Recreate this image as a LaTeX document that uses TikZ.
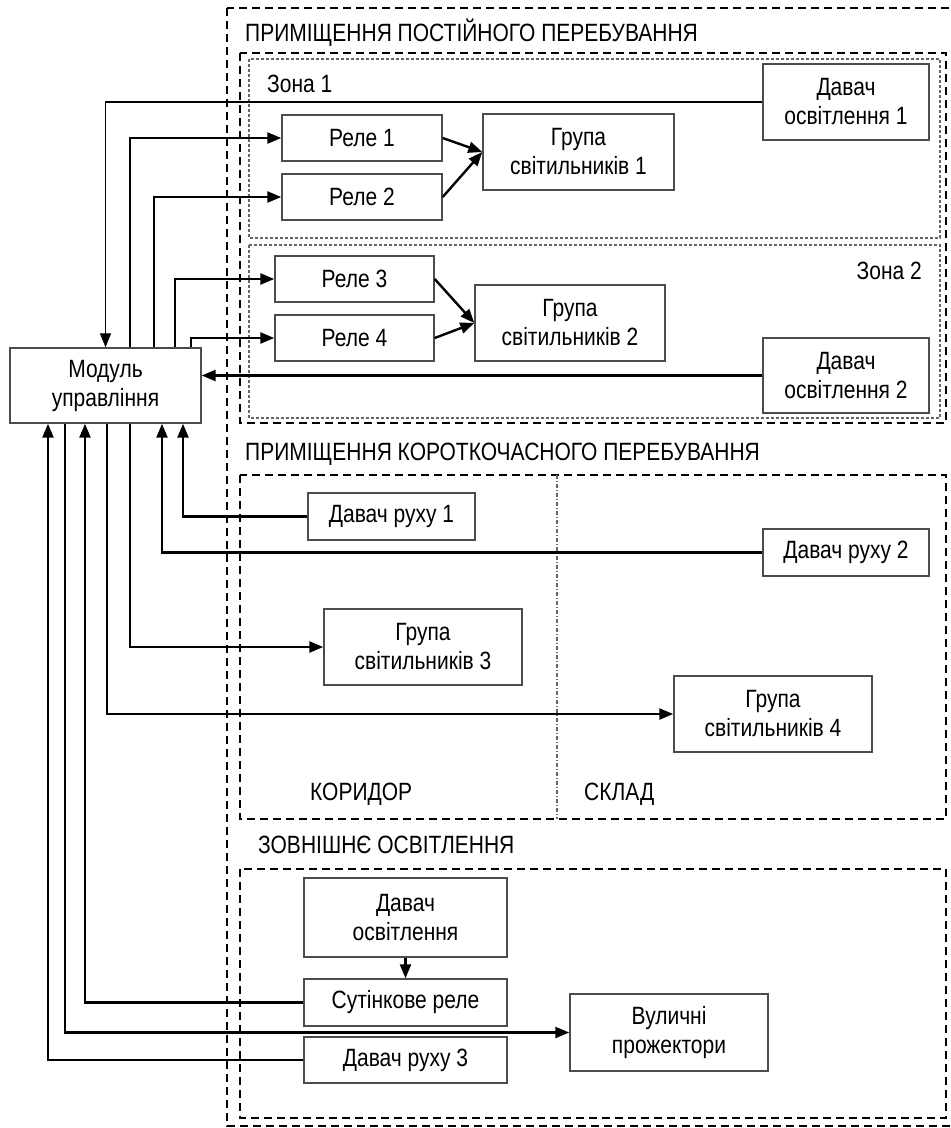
\documentclass[tikz,border=0pt]{standalone}
\usepackage{fontspec}
\setmainfont{Liberation Sans}[FakeStretch=0.84]
\usetikzlibrary{arrows.meta}
\begin{document}
\begin{tikzpicture}[x=1pt,y=-1pt,>={Triangle[length=14pt,width=11pt]}]

% page size
\useasboundingbox (0,0) rectangle (951,1128);
% text size
\def\fs{\fontsize{25}{29}\selectfont}
% node style definition
\tikzstyle{block} = [
	draw=black!70, line width=1.4pt, rectangle, align=center,
	inner sep=0pt, font=\fs, text=black ];
\tikzstyle{wire} = [line width=2.4pt, black];
\tikzstyle{room} = [line width=2.6pt, black, dash pattern=on 8pt off 5pt];
\tikzstyle{zone} = [line width=1.1pt, black!60, dash pattern=on 3pt off 2pt];
\tikzstyle{plain} = [draw=none, fill=none, inner sep=0pt, font=\fs, text=black];

% rooms
\draw[room] (227,8) rectangle (965,1126);
\draw[room] (240,53) rectangle (946,423);
\draw[room] (240,475) rectangle (946,819);
\draw[room] (240,869) rectangle (946,1118);
\draw[zone] (249,59) rectangle (940,238);
\draw[zone] (249,245) rectangle (940,418);
\draw[zone, dash pattern=on 4pt off 2pt on 1pt off 2pt] (557,475) -- (557,819);

\node[plain,anchor=base west] (t1) at (245,41) {ПРИМІЩЕННЯ ПОСТІЙНОГО ПЕРЕБУВАННЯ};
\node[plain,anchor=base west] (z1) at (267,92) {Зона 1};
\node[plain,anchor=base east] (z2) at (922,279) {Зона 2};
\node[plain,anchor=base west] (t2) at (245,460) {ПРИМІЩЕННЯ КОРОТКОЧАСНОГО ПЕРЕБУВАННЯ};
\node[plain,anchor=base west] (kor) at (310,800) {КОРИДОР};
\node[plain,anchor=base west] (skl) at (584,800) {СКЛАД};
\node[plain,anchor=base west] (t3) at (258,853) {ЗОВНІШНЄ ОСВІТЛЕННЯ};

% blocks
\node[block,minimum width=191pt,minimum height=75pt] (mod) at (105.5,385.5) {Модуль\\управління};

\node[block,minimum width=160pt,minimum height=46pt] (r1) at (362,138) {Реле 1};
\node[block,minimum width=160pt,minimum height=46pt] (r2) at (362,197) {Реле 2};
\node[block,minimum width=159pt,minimum height=46pt] (r3) at (354.5,279) {Реле 3};
\node[block,minimum width=159pt,minimum height=46pt] (r4) at (354.5,338) {Реле 4};

\node[block,minimum width=191pt,minimum height=76pt] (g1) at (578.5,152) {Група\\світильників 1};
\node[block,minimum width=190pt,minimum height=76pt] (g2) at (570,323) {Група\\світильників 2};
\node[block,minimum width=198pt,minimum height=76pt] (g3) at (423,647) {Група\\світильників 3};
\node[block,minimum width=198pt,minimum height=76pt] (g4) at (773,714) {Група\\світильників 4};

\node[block,minimum width=166pt,minimum height=76pt] (do1) at (846,102) {Давач\\освітлення 1};
\node[block,minimum width=166pt,minimum height=75pt] (do2) at (846,375.5) {Давач\\освітлення 2};
\node[block,minimum width=203pt,minimum height=79pt] (do3) at (405.5,917.5) {Давач\\освітлення};

\node[block,minimum width=167pt,minimum height=47pt] (dr1) at (391.5,516.5) {Давач руху 1};
\node[block,minimum width=166pt,minimum height=47pt] (dr2) at (846,552.5) {Давач руху 2};
\node[block,minimum width=203pt,minimum height=46pt] (dr3) at (405.5,1060) {Давач руху 3};

\node[block,minimum width=203pt,minimum height=47pt] (sr) at (405.5,1002.5) {Сутінкове реле};
\node[block,minimum width=198pt,minimum height=77pt] (vp) at (669,1032.5) {Вуличні\\прожектори};

% upper links
\draw[->,line width=1.2pt] (do1.west) -| (mod.north);
\draw[wire,->] ([xshift=24.5pt]mod.north) |- (r1.west);
\draw[wire,->] ([xshift=48.5pt]mod.north) |- (r2.west);
\draw[wire,->] ([xshift=69.5pt]mod.north) |- (r3.west);
\draw[wire,->] ([xshift=85.5pt]mod.north) |- (r4.west);
\draw[wire,->] (r1.east) -- (g1.west);
\draw[wire,->] (r2.east) -- (g1.west);
\draw[wire,->] (r3.east) -- (g2.west);
\draw[wire,->] (r4.east) -- (g2.west);
\draw[wire,->] (do2.west) -- (do2.west -| mod.east);

% lower links
\draw[wire,->] (dr1.west) -| ([xshift=77.5pt]mod.south);
\draw[wire,->] (dr2.west) -| ([xshift=56.5pt]mod.south);
\draw[wire,->] ([xshift=24.5pt]mod.south) |- (g3.west);
\draw[wire,->] ([xshift=1.5pt]mod.south) |- (g4.west);
\draw[wire,->] (sr.west) -| ([xshift=-20.5pt]mod.south);
\draw[wire,->] ([xshift=-40.5pt]mod.south) |- (vp.west);
\draw[wire,->] (dr3.west) -| ([xshift=-57.5pt]mod.south);
\draw[wire,->] (do3.south) -- (sr.north);

\end{tikzpicture}
\end{document}
